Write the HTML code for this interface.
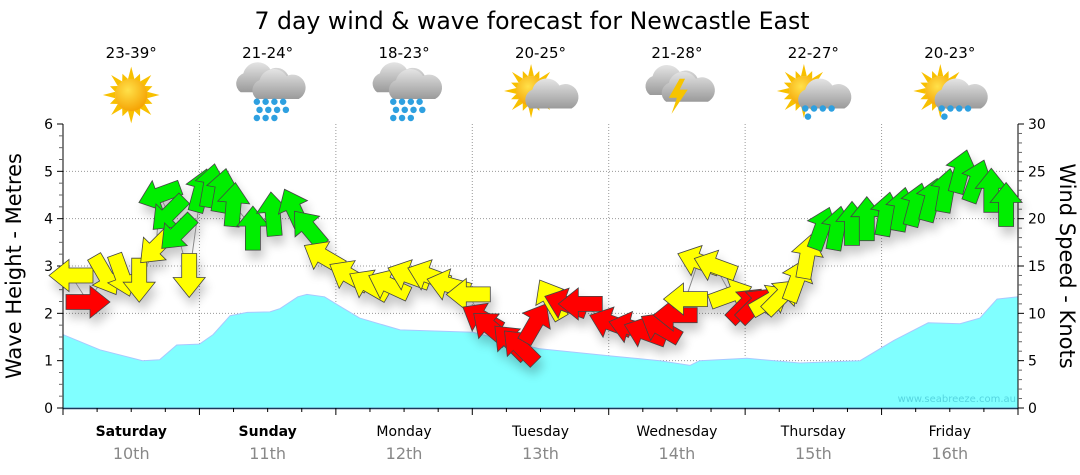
<!DOCTYPE html>
<html><head><meta charset="utf-8">
<style>
html,body{margin:0;padding:0;background:#fff;}
svg{display:block;font-family:"DejaVu Sans","Liberation Sans",sans-serif;}
</style></head>
<body>
<svg id="chart" width="1080" height="475" viewBox="0 0 1080 475" xmlns="http://www.w3.org/2000/svg">
<defs>
  <filter id="shadow" x="-50%" y="-50%" width="200%" height="200%">
    <feGaussianBlur in="SourceAlpha" stdDeviation="5"/>
    <feOffset dx="3" dy="8" result="b"/>
    <feComponentTransfer><feFuncA type="linear" slope="0.22"/></feComponentTransfer>
    <feMerge><feMergeNode/><feMergeNode in="SourceGraphic"/></feMerge>
  </filter>
  <radialGradient id="sunG" cx="0.4" cy="0.35" r="0.7"><stop offset="0" stop-color="#ffe14a"/><stop offset="1" stop-color="#f5a000"/></radialGradient>
  <linearGradient id="cloudG" x1="0" y1="0" x2="0" y2="1"><stop offset="0" stop-color="#e4e4e4"/><stop offset="1" stop-color="#9a9a9a"/></linearGradient>
</defs>
<text x="532" y="29" font-size="24" text-anchor="middle" textLength="555" lengthAdjust="spacingAndGlyphs" fill="#000">7 day wind &amp; wave forecast for Newcastle East</text>
<g id="weather"></g>
<g id="grid"></g>
<g id="wave"></g>
<g id="axes"></g>
<g id="wind" filter="url(#shadow)"></g>
<text x="1016" y="402" font-size="10" text-anchor="end" fill="#55d5e0">www.seabreeze.com.au</text>
<text transform="translate(21,266) rotate(-90)" font-size="21" text-anchor="middle" fill="#000">Wave Height - Metres</text>
<text transform="translate(1060,266) rotate(90)" font-size="21" text-anchor="middle" fill="#000">Wind Speed - Knots</text>
</svg>
<script>
const dayNames=["Saturday","Sunday","Monday","Tuesday","Wednesday","Thursday","Friday"];
const dayDates=["10th","11th","12th","13th","14th","15th","16th"];
const dayBold=[true,true,false,false,false,false,false];
const temps=["23-39°","21-24°","18-23°","20-25°","21-28°","22-27°","20-23°"];
const icons=["sun","rain","rain","suncloud","storm","sunrain","sunrain"];
const waveTicks=[0,1,2,3,4,5,6];
const windTicks=[0,5,10,15,20,25,30];
const waveHours=[0,6.5,14,17,20,24,26.4,29.4,32.4,36.4,38.2,41.3,42.9,46,48.7,52.2,59.3,72.1,80.4,83.9,96.2,105,110.3,112,120.3,129.6,140.2,146.2,152.2,157.8,161.3,164.3,168];
const waveHeights=[1.55,1.23,1.0,1.02,1.33,1.35,1.55,1.95,2.02,2.03,2.1,2.35,2.4,2.35,2.15,1.9,1.65,1.6,1.35,1.25,1.1,1.0,0.9,1.0,1.05,0.95,1.0,1.43,1.8,1.78,1.9,2.3,2.35];
const windHours=[1.4,4.4,7.4,10.4,13.4,16.4,17.0,18.6,20.1,22.2,24.3,26.0,28.0,30.0,33.4,36.9,40.6,43.2,45.8,50.3,53.8,57.3,60.8,64.3,67.8,71.3,73.7,75.2,78.7,80.4,83.1,85.8,88.4,91.0,96.3,99.8,102.4,105.1,107.7,109.5,111.8,114.7,117.5,120.1,121.8,124.5,126.4,129.1,130.9,133.5,136.2,138.8,141.4,144.8,147.5,150.1,152.8,155.4,158.0,160.7,163.3,165.9];
const windSpeeds=[14,11.2,14,14,13.5,17,22.5,20.5,18.5,14,23,23.5,23,21.5,19,20.5,21,19,16,14,13,13,14,14,13,12,9.5,8.5,7,6.5,9,11.5,11,11,9,8.5,8,8.5,9.8,11.5,15.5,15,12,10.9,10.9,11.4,11.8,13.5,16,19,19,19.5,20,20.5,21,21.5,22,23,25,24,23,21.5];
const windDirs=[180,0,-60,-70,-90,-135,200,225,225,-90,75,80,80,85,90,95,115,130,150,150,150,155,160,160,165,180,150,140,135,135,60,120,160,180,160,165,160,150,180,180,160,160,20,45,45,30,45,70,80,70,80,90,90,80,80,75,75,80,75,70,90,90];

const X0=63,X1=1018,YT=124,YB=408;
const xH=h=>X0+h*(X1-X0)/168;
const yM=m=>YB-m*(YB-YT)/6;
const yK=k=>YB-k*(YB-YT)/30;
const NS="http://www.w3.org/2000/svg";
function mk(tag,attrs,parent){const e=document.createElementNS(NS,tag);for(const k in attrs)e.setAttribute(k,attrs[k]);parent.appendChild(e);return e;}
const grid=document.getElementById('grid'),axes=document.getElementById('axes'),wave=document.getElementById('wave'),wind=document.getElementById('wind'),weather=document.getElementById('weather');

waveTicks.forEach(t=>{if(t>0&&t<6){const l=mk('line',{x1:X0,x2:X1,y1:yM(t),y2:yM(t),stroke:'#999','stroke-width':1,'stroke-dasharray':'1,2'},grid);

}});
for(let d=1;d<7;d++){const l=mk('line',{x1:xH(d*24),x2:xH(d*24),y1:YT,y2:YB,stroke:'#999','stroke-width':1,'stroke-dasharray':'1,2'},grid);

}

let p='M'+xH(waveHours[0])+','+YB;
waveHours.forEach((h,i)=>{p+=' L'+xH(h).toFixed(1)+','+yM(waveHeights[i]).toFixed(1);});
p+=' L'+xH(waveHours[waveHours.length-1])+','+YB+' Z';
const area=mk('path',{d:p,fill:'#80ffff',stroke:'#a8c8ff','stroke-width':1},wave);



mk('line',{x1:X0,x2:X0,y1:YT,y2:YB,stroke:'#000'},axes);
mk('line',{x1:X1,x2:X1,y1:YT,y2:YB,stroke:'#000'},axes);
mk('line',{x1:X0,x2:X1,y1:YB+0.5,y2:YB+0.5,stroke:'#1a3a5a','stroke-width':1.5},axes);
for(let i=0;i<=24;i++){const m=i*0.25;const major=i%4===0;mk('line',{x1:X0-(major?6:4),x2:X0,y1:yM(m),y2:yM(m),stroke:major?'#000':'#666'},axes);}
waveTicks.forEach(t=>{const tx=mk('text',{x:X0-10,y:yM(t)+5,'font-size':14,'text-anchor':'end',fill:'#000'},axes);tx.textContent=t;

});
for(let k=0;k<=30;k++){const major=k%5===0;mk('line',{x1:X1,x2:X1+(major?6:4),y1:yK(k),y2:yK(k),stroke:major?'#000':'#666'},axes);}
windTicks.forEach(t=>{const tx=mk('text',{x:X1+10,y:yK(t)+5,'font-size':14,'text-anchor':'start',fill:'#000'},axes);tx.textContent=t;

});
for(let i=0;i<=28;i++){const h=i*6;const major=i%4===0;mk('line',{x1:xH(h),x2:xH(h),y1:YB,y2:YB+(major?7:4),stroke:'#000'},axes);}
dayNames.forEach((n,d)=>{const cx=xH(d*24+12);
const t=mk('text',{x:cx,y:436,'font-size':14,'text-anchor':'middle',fill:'#000','font-weight':dayBold[d]?'bold':'normal'},axes);t.textContent=n;


const t2=mk('text',{x:cx,y:459,'font-size':16,'text-anchor':'middle',fill:'#888'},axes);t2.textContent=dayDates[d];


const t3=mk('text',{x:cx,y:58,'font-size':15,'text-anchor':'middle',fill:'#000'},weather);t3.textContent=temps[d];


const g=mk('g',{transform:'translate('+cx+',95) scale(1.35)'},weather);


drawIcon(g,icons[d]);});

function sun(g,r,dx,dy){for(let a=0;a<360;a+=22.5){const rad=a*Math.PI/180,L=(a/22.5)%2?r+5:r+9;
mk('polygon',{points:[dx+Math.cos(rad)*L,dy+Math.sin(rad)*L,dx+Math.cos(rad+0.2)*r,dy+Math.sin(rad+0.2)*r,dx+Math.cos(rad-0.2)*r,dy+Math.sin(rad-0.2)*r].join(','),fill:'#f8c000'},g);}
mk('circle',{cx:dx,cy:dy,r:r,fill:'url(#sunG)'},g);}
function cloud(g,dx,dy,s){mk('path',{d:`M${dx-14*s},${dy+8*s} a8 8 0 0 1 2,-14 a11 11 0 0 1 20,-3 a9 9 0 0 1 9,17 z`,fill:'url(#cloudG)'},g);}
function drops(g,dx,dy,n){for(let i=0;i<n;i++){mk('circle',{cx:dx+(i%4)*6.5-(Math.floor(i/4)%2?8:10),cy:dy+Math.floor(i/4)*6,r:2.4,fill:'#2ea0e0'},g);}}
function drawIcon(g,k){
 if(k==='sun'){sun(g,12,0,0);}
 else if(k==='rain'){cloud(g,-6,-10,1);cloud(g,6,-5,1);drops(g,2,5,11);}
 else if(k==='suncloud'){sun(g,11,-7,-3);cloud(g,6,2,1);}
 else if(k==='storm'){cloud(g,-6,-8,1);cloud(g,6,-3,1);mk('polygon',{points:'2,-12 -6,2 0,2 -4,14 8,-4 2,-4 6,-12',fill:'#f6c400'},g);}
 else {sun(g,11,-7,-3);cloud(g,6,2,1);drops(g,4,10,5);}
}

let lp='';windHours.forEach((h,i)=>{lp+=(i?' L':'M')+xH(h).toFixed(1)+','+yK(windSpeeds[i]).toFixed(1);});
const wl=mk('path',{d:lp,fill:'none',stroke:'#888','stroke-width':1},wind);



const shape='M-22,-7.5 L2,-7.5 L2,-16 L22,0 L2,16 L2,7.5 L-22,7.5 Z';
windHours.forEach((h,i)=>{const s=windSpeeds[i];const col=s<11.3?'#ff0000':(s<18?'#ffff00':'#00ee00');
const a=mk('path',{d:shape,fill:col,stroke:'#444','stroke-width':0.8,transform:`translate(${xH(h).toFixed(1)},${yK(s).toFixed(1)}) rotate(${-windDirs[i]})`},wind);

});
</script>
</body></html>
